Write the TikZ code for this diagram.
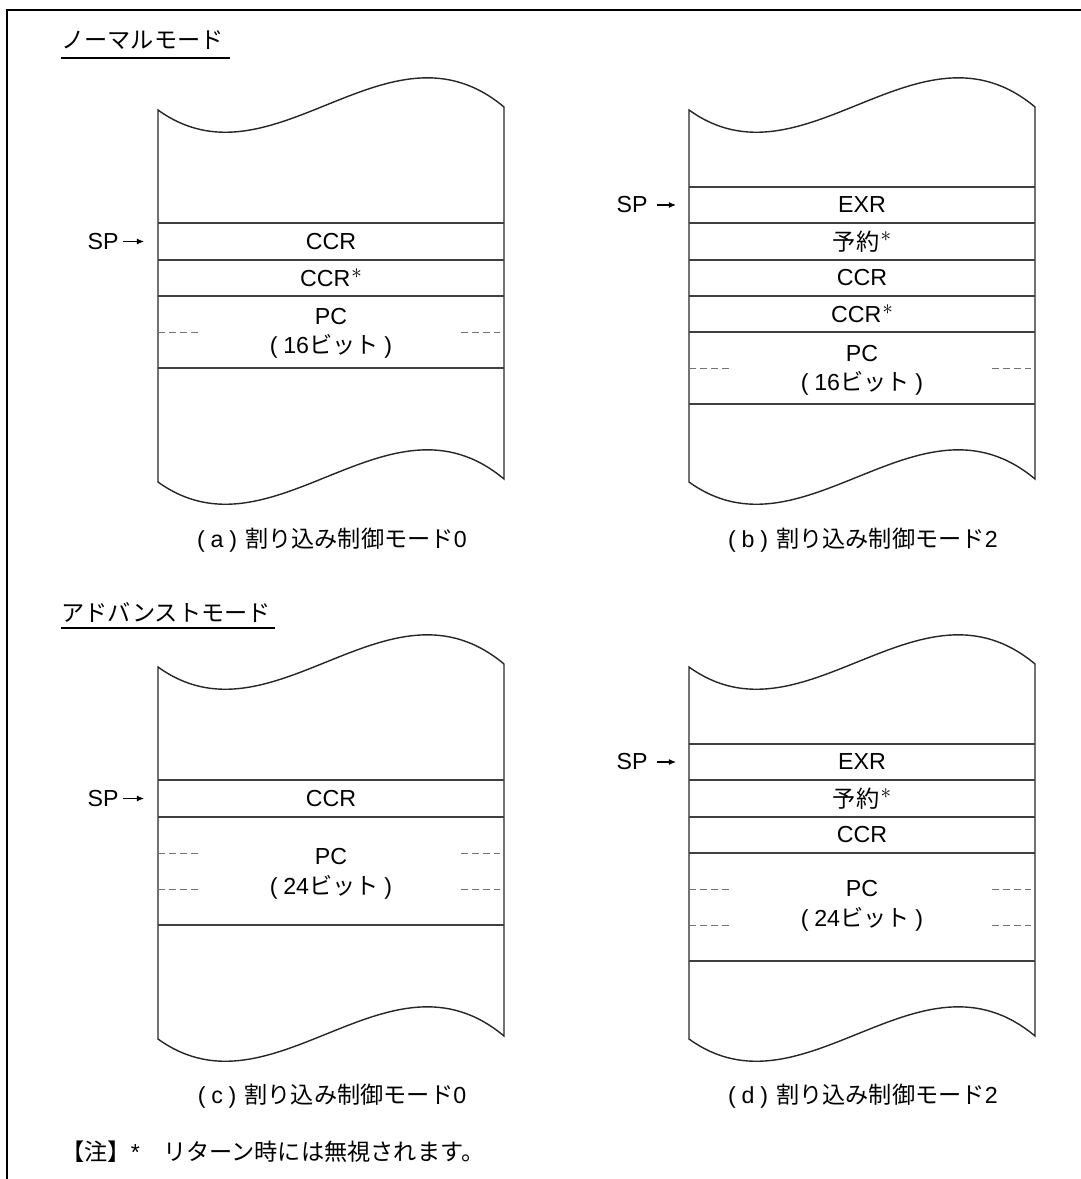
\documentclass[tikz,border=0pt]{standalone}
\usepackage{fontspec}
\setmainfont{Liberation Sans}
\newfontfamily\ja{Noto Sans CJK JP}
\usepackage{tikz}
\usetikzlibrary{arrows.meta}

\newcommand{\starmark}{\kern0.05em\raisebox{0.36em}{$\ast$}}
\newcommand{\pgap}{\hspace{0.25em}}

\tikzset{
  stack/.style={draw=black!85, line width=0.8pt},
  row/.style={draw=black!75, line width=0.8pt},
  half/.style={draw=black!55, line width=0.5pt, dash pattern=on 4pt off 2.3pt},
  sparrow/.style={-{Latex[length=4pt,width=3.4pt]}, line width=0.6pt, shorten <=2pt},
  title/.style={anchor=west},
}

\begin{document}
\begin{tikzpicture}[x=0.02cm,y=-0.02cm,inner sep=0pt,font=\fontsize{13.2}{16}\selectfont]
  \useasboundingbox (0,0) rectangle (1081,1179);
  % Frame
  \draw[line width=1.7pt] (7,1179) -- (7,10) -- (1081,10);

  % Normal mode
  \node[title] (tnorm) at (61,40) {\ja ノーマルモード};
  \draw[line width=0.6pt] (61,58) -- (230,58);

  % (a) interrupt control mode 0
  \begin{scope}[shift={(158,110)}]
    \draw[stack] (0,0) .. controls (115,83) and (230,-100) .. (346,-3) -- (346,369)
      .. controls (230,272) and (115,455) .. (0,372) -- cycle;
    \draw[row] (0,113) -- (346,113) (0,150) -- (346,150) (0,186) -- (346,186) (0,258) -- (346,258);
    \draw[half] (0,222) -- (40,222) (303,222) -- (342,222);
    \node (a1) at (173,131.5) {CCR};
    \node (a2) at (173,168) {CCR\starmark};
    \node (a3) at (173,207) {PC};
    \node (a4) at (173,236) {(\pgap16{\ja ビット}\pgap)};
    \node[anchor=east] (spa) at (-39,131.5) {SP};
    \coordinate (ta) at (-14,131.5);
    \draw[sparrow] (spa) -- (ta);
  \end{scope}
  \node (capa) at (332,540) {(\pgap a\pgap)\hspace{0.35em}{\ja 割り込み制御モード}0};

  % (b) interrupt control mode 2
  \begin{scope}[shift={(689,110)}]
    \draw[stack] (0,0) .. controls (115,83) and (230,-100) .. (346,-3) -- (346,369)
      .. controls (230,272) and (115,455) .. (0,372) -- cycle;
    \draw[row] (0,77) -- (346,77) (0,113) -- (346,113) (0,150) -- (346,150)
      (0,186) -- (346,186) (0,222) -- (346,222) (0,294) -- (346,294);
    \draw[half] (0,258) -- (40,258) (303,258) -- (342,258);
    \node (b1) at (173,95) {EXR};
    \node (b2) at (173,131.5) {{\ja 予約}\starmark};
    \node (b3) at (173,168) {CCR};
    \node (b4) at (173,204) {CCR\starmark};
    \node (b5) at (173,244) {PC};
    \node (b6) at (173,273) {(\pgap16{\ja ビット}\pgap)};
    \node[anchor=east] (spb) at (-41,95) {SP};
    \coordinate (tb) at (-13,95);
    \draw[sparrow, shorten <=5pt] (spb) -- (tb);
  \end{scope}
  \node (capb) at (863,540) {(\pgap b\pgap)\hspace{0.35em}{\ja 割り込み制御モード}2};

  % Advanced mode
  \node[title] (tadv) at (61,612) {\ja アドバンストモード};
  \draw[line width=0.6pt] (61,628) -- (275,628);

  % (c) interrupt control mode 0
  \begin{scope}[shift={(158,667)}]
    \draw[stack] (0,0) .. controls (115,83) and (230,-100) .. (346,-3) -- (346,369)
      .. controls (230,272) and (115,455) .. (0,372) -- cycle;
    \draw[row] (0,113) -- (346,113) (0,150) -- (346,150) (0,258) -- (346,258);
    \draw[half] (0,186) -- (40,186) (303,186) -- (342,186)
      (0,222) -- (40,222) (303,222) -- (342,222);
    \node (c1) at (173,131.5) {CCR};
    \node (c2) at (173,190) {PC};
    \node (c3) at (173,220) {(\pgap24{\ja ビット}\pgap)};
    \node[anchor=east] (spc) at (-39,131.5) {SP};
    \coordinate (tc) at (-14,131.5);
    \draw[sparrow] (spc) -- (tc);
  \end{scope}
  \node (capc) at (332,1096) {(\pgap c\pgap)\hspace{0.35em}{\ja 割り込み制御モード}0};

  % (d) interrupt control mode 2
  \begin{scope}[shift={(689,667)}]
    \draw[stack] (0,0) .. controls (115,83) and (230,-100) .. (346,-3) -- (346,369)
      .. controls (230,272) and (115,455) .. (0,372) -- cycle;
    \draw[row] (0,77) -- (346,77) (0,113) -- (346,113) (0,150) -- (346,150)
      (0,186) -- (346,186) (0,294) -- (346,294);
    \draw[half] (0,222) -- (40,222) (303,222) -- (342,222)
      (0,258) -- (40,258) (303,258) -- (342,258);
    \node (d1) at (173,95) {EXR};
    \node (d2) at (173,131.5) {{\ja 予約}\starmark};
    \node (d3) at (173,168) {CCR};
    \node (d4) at (173,222) {PC};
    \node (d5) at (173,252) {(\pgap24{\ja ビット}\pgap)};
    \node[anchor=east] (spd) at (-41,95) {SP};
    \coordinate (td) at (-13,95);
    \draw[sparrow, shorten <=5pt] (spd) -- (td);
  \end{scope}
  \node (capd) at (863,1096) {(\pgap d\pgap)\hspace{0.35em}{\ja 割り込み制御モード}2};

  % Note
  \node[title] (note) at (61,1152) {{\ja 【注】}*{\ja 　リターン時には無視されます。}};
\end{tikzpicture}
\end{document}
